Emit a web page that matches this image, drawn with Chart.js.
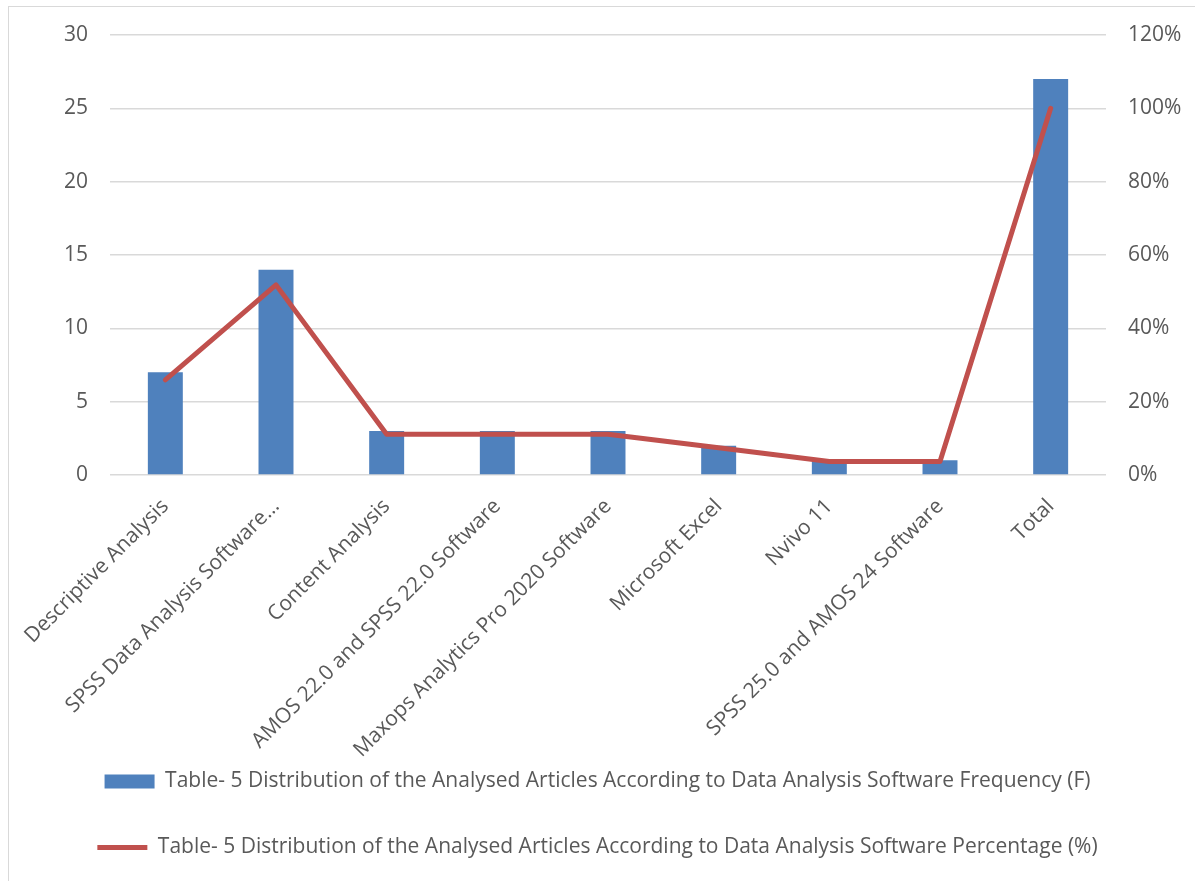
<!DOCTYPE html>
<html>
<head>
<meta charset="utf-8">
<script src="https://cdn.jsdelivr.net/npm/chart.js@4"></script>
<style>
  html, body { margin: 0; padding: 0; background: #fff; overflow: hidden; }
  #wrap { position: relative; width: 1195px; height: 881px; }
  #frame { position: absolute; left: 8px; top: 6px; width: 1200px; height: 900px; border: 1px solid #d9d9d9; }
  canvas { position: absolute; left: 0; top: 0; }
</style>
</head>
<body>
<div id="wrap">
  <div id="frame"></div>
  <canvas id="grafico" width="1195" height="881"></canvas>
</div>
<script>
const categorias = [
  "Descriptive Analysis",
  "SPSS Data Analysis Software…",
  "Content Analysis",
  "AMOS 22.0 and SPSS 22.0 Software",
  "Maxops Analytics Pro 2020 Software",
  "Microsoft Excel",
  "Nvivo 11",
  "SPSS 25.0 and AMOS 24 Software",
  "Total"
];
const frequencia = [7, 14, 3, 3, 3, 2, 1, 1, 27];
const percentagem = [25.93, 51.85, 11.11, 11.11, 11.11, 7.41, 3.7, 3.7, 100];
const ticksEsquerda = [0, 5, 10, 15, 20, 25, 30];
const ticksDireita = [0, 20, 40, 60, 80, 100, 120];

const nomeBarra = "Table- 5 Distribution of the Analysed Articles According to Data Analysis Software Frequency (F)";
const nomeLinha = "Table- 5 Distribution of the Analysed Articles According to Data Analysis Software Percentage (%)";

Chart.defaults.font.family = "'Open Sans', sans-serif";
Chart.defaults.font.size = 21;
Chart.defaults.color = "#595959";

new Chart(document.getElementById("grafico"), {
  data: {
    labels: categorias,
    datasets: [
      {
        type: "bar",
        label: nomeBarra,
        data: frequencia,
        backgroundColor: "#4f81bd",
        borderWidth: 0,
        barPercentage: 0.316,
        categoryPercentage: 1,
        yAxisID: "y",
        order: 1,
        pointStyle: "rect"
      },
      {
        type: "line",
        label: nomeLinha,
        data: percentagem,
        borderColor: "#c0504d",
        backgroundColor: "#c0504d",
        borderWidth: 5,
        borderCapStyle: "round",
        borderJoinStyle: "round",
        pointRadius: 0,
        tension: 0,
        yAxisID: "y1",
        order: 0,
        pointStyle: "line"
      }
    ]
  },
  options: {
    responsive: false,
    animation: false,
    layout: { padding: { top: 35, left: 0, right: 0, bottom: 13 } },
    scales: {
      x: {
        grid: { display: false },
        border: { display: false },
        ticks: { minRotation: 45, maxRotation: 45, autoSkip: false, padding: 11 },
        afterFit: (s) => {
          s.height = 251;
          // os rótulos inclinados passam por baixo da legenda, não cortar
          s._computeLabelArea = () => null;
        }
      },
      y: {
        position: "left",
        min: 0,
        max: 30,
        afterBuildTicks: (s) => { s.ticks = ticksEsquerda.map((v) => ({ value: v })); },
        grid: { color: "#d9d9d9", lineWidth: 1.5, drawTicks: false },
        border: { display: false },
        ticks: { padding: 22 },
        afterFit: (s) => { s.width = 110; }
      },
      y1: {
        position: "right",
        min: 0,
        max: 120,
        afterBuildTicks: (s) => { s.ticks = ticksDireita.map((v) => ({ value: v })); },
        grid: { display: false, drawTicks: false },
        border: { display: false },
        ticks: { padding: 22, callback: (v) => v + "%" },
        afterFit: (s) => { s.width = 89; }
      }
    },
    plugins: {
      legend: {
        position: "bottom",
        labels: {
          usePointStyle: true,
          pointStyleWidth: 50,
          boxHeight: 14,
          padding: 45,
          font: { size: 21 },
          sort: (a, b) => a.datasetIndex - b.datasetIndex
        }
      },
      tooltip: { enabled: false }
    }
  }
});
</script>
</body>
</html>
